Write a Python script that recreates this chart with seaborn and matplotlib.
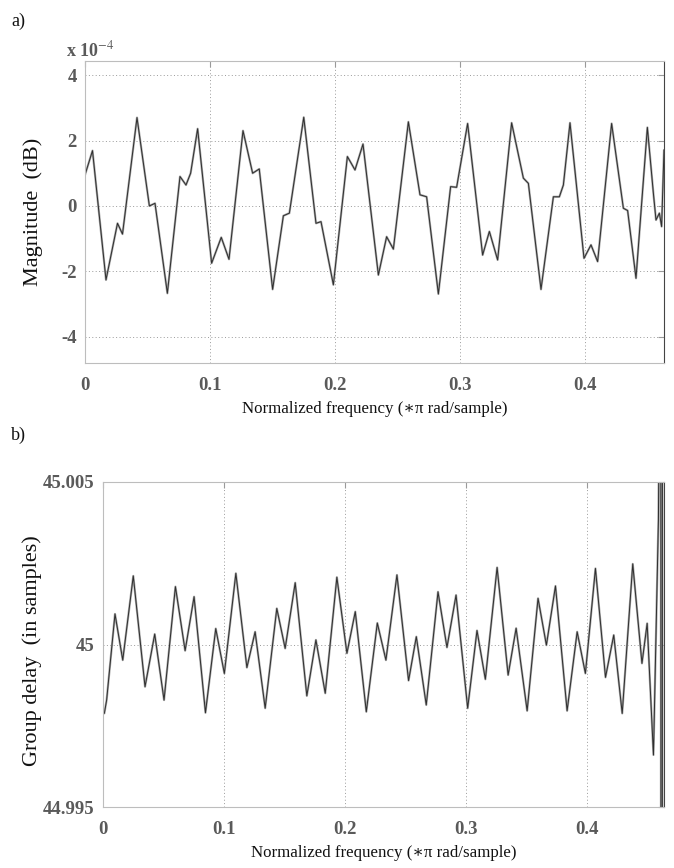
import numpy as np
import pandas as pd
import seaborn as sns
import matplotlib.pyplot as plt

sns.set_style("white")
plt.rcParams["font.family"] = ["Liberation Serif", "DejaVu Serif"]
plt.rcParams["mathtext.fontset"] = "stix"

# ---------------------------------------------------------
# data
# ---------------------------------------------------------

# a) magnitude error, in units of 1e-4 dB
freq_a = [0.0, 0.006, 0.0168, 0.026, 0.030, 0.0416, 0.0515, 0.056, 0.0659, 0.076,
          0.0808, 0.0845, 0.0901, 0.1013, 0.109, 0.1152, 0.1264, 0.1341, 0.1394, 0.1501,
          0.1587, 0.1635, 0.175, 0.1848, 0.1888, 0.1987, 0.2099, 0.216, 0.2224, 0.2347,
          0.2413, 0.2467, 0.2587, 0.268, 0.2733, 0.2827, 0.2925, 0.2973, 0.3061, 0.3181,
          0.3235, 0.3301, 0.3413, 0.3507, 0.3547, 0.3648, 0.3747, 0.3795, 0.3827, 0.388,
          0.3992, 0.4048, 0.4101, 0.4213, 0.4307, 0.4341, 0.4408, 0.4499, 0.4547, 0.4568,
          0.4595, 0.4613, 0.4632]
mag_a = [0.95, 1.69, -2.26, -0.53, -0.86, 2.70, 0.0, 0.08, -2.67, 0.90,
         0.64, 1.0, 2.36, -1.75, -0.96, -1.63, 2.30, 1.0, 1.13, -2.55,
         -0.30, -0.22, 2.71, -0.53, -0.48, -2.41, 1.51, 1.10, 1.89, -2.11,
         -0.94, -1.32, 2.57, 0.34, 0.28, -2.69, 0.59, 0.57, 2.52, -1.50,
         -0.78, -1.65, 2.54, 0.85, 0.69, -2.55, 0.28, 0.28, 0.64, 2.54,
         -1.60, -1.19, -1.70, 2.52, -0.07, -0.14, -2.21, 2.40, 0.39, -0.43,
         -0.22, -0.63, 1.71]

# b) group delay, deviation from 45 samples in units of 1e-3 samples
freq_b = [0.0011, 0.003, 0.0099, 0.0163, 0.025, 0.0347, 0.0427, 0.0504, 0.0598, 0.0678,
          0.0752, 0.0846, 0.0931, 0.1002, 0.1097, 0.1188, 0.1256, 0.1339, 0.1435, 0.1504,
          0.1587, 0.1683, 0.1758, 0.1835, 0.1931, 0.2014, 0.2083, 0.2174, 0.2265, 0.2336,
          0.2427, 0.2523, 0.2587, 0.2669, 0.2766, 0.2840, 0.2915, 0.3011, 0.3088, 0.3157,
          0.3254, 0.3345, 0.3411, 0.3502, 0.3592, 0.3661, 0.3736, 0.3832, 0.3915, 0.3983,
          0.4066, 0.4149, 0.4217, 0.4287, 0.4374, 0.4450, 0.4493, 0.4545, 0.4586, 0.4594,
          0.4606, 0.4607, 0.4618, 0.4619]
delay_b = [-2.12, -1.71, 0.94, -0.48, 2.11, -1.30, 0.32, -1.71, 1.78, -0.19,
           1.47, -2.10, 0.49, -0.89, 2.19, -0.71, 0.39, -1.96, 1.11, -0.12,
           1.90, -1.58, 0.14, -1.50, 2.07, -0.27, 1.01, -2.07, 0.66, -0.48,
           2.14, -1.11, 0.24, -1.86, 1.62, -0.09, 1.52, -1.96, 0.43, -1.07,
           2.37, -0.94, 0.50, -2.04, 1.42, -0.02, 1.80, -2.04, 0.39, -0.89,
           2.34, -1.01, 0.29, -2.12, 2.48, -0.58, 0.65, -3.40, 3.83, 8.0,
           8.0, -8.0, -8.0, 8.0]

xticks = [0, 0.1, 0.2, 0.3, 0.4]
xticklabels = ["0", "0.1", "0.2", "0.3", "0.4"]
yticks_a = [-4, -2, 0, 2, 4]
yticks_b = [44.995, 45.0, 45.005]
yticklabels_b = ["44.995", "45", "45.005"]

df_a = pd.DataFrame({"f": freq_a, "m": mag_a})
df_b = pd.DataFrame({"f": freq_b, "d": 45 + np.array(delay_b) / 1000})

# ---------------------------------------------------------
# figure
# ---------------------------------------------------------

fig = plt.figure(figsize=(6.74, 8.68), dpi=100)
ax1 = fig.add_axes([85 / 674, 1 - 363 / 868, 579 / 674, 302 / 868])
ax2 = fig.add_axes([103 / 674, 1 - 807 / 868, 561 / 674, 325 / 868])

tick_col = "#5a5a5a"
xlabel = "Normalized frequency (\u2217\u03c0 rad/sample)"


def style_axes(ax):
    ax.grid(True, linestyle=(0, (1, 2.5)), color="#9a9a9a", linewidth=0.7)
    for side in ["left", "top", "bottom"]:
        ax.spines[side].set_color("#bdbdbd")
    ax.spines["right"].set_color("#444444")
    ax.tick_params(direction="in", length=4, top=True, right=True,
                   color="#9a9a9a", labelcolor=tick_col, labelsize=13.5)
    ax.tick_params(axis="x", pad=10)
    ax.tick_params(axis="y", pad=6)
    for lab in ax.get_xticklabels() + ax.get_yticklabels():
        lab.set_fontweight("bold")
    ax.set_xlabel(xlabel, fontsize=12.2, color="#111111", labelpad=5)


# panel a
sns.lineplot(data=df_a, x="f", y="m", sort=False, estimator=None, ax=ax1,
             color="#a8a8a8", linewidth=1.6)
sns.lineplot(data=df_a, x="f", y="m", sort=False, estimator=None, ax=ax1,
             color="#2e2e2e", linewidth=0.7)
ax1.set_xlim(0, 0.4632)
ax1.set_ylim(-4.8, 4.43)
ax1.set_xticks(xticks)
ax1.set_xticklabels(xticklabels)
ax1.set_yticks(yticks_a)
ax1.set_yticklabels([str(v) for v in yticks_a])
style_axes(ax1)
ax1.set_ylabel("Magnitude  (dB)", fontsize=16, color="#111111")
ax1.yaxis.set_label_coords(-0.073, 0.5)

# panel b
sns.lineplot(data=df_b, x="f", y="d", sort=False, estimator=None, ax=ax2,
             color="#a8a8a8", linewidth=1.6)
sns.lineplot(data=df_b, x="f", y="d", sort=False, estimator=None, ax=ax2,
             color="#2e2e2e", linewidth=0.7)
ax2.set_xlim(0, 0.4632)
ax2.set_ylim(44.995, 45.005)
ax2.set_xticks(xticks)
ax2.set_xticklabels(xticklabels)
ax2.set_yticks(yticks_b)
ax2.set_yticklabels(yticklabels_b)
style_axes(ax2)
ax2.set_ylabel("Group delay  (in samples)", fontsize=16, color="#111111")
ax2.yaxis.set_label_coords(-0.109, 0.48)

fig.text(11 / 674, 1 - 26 / 868, "a)", fontsize=13, color="#111111")
fig.text(11 / 674, 1 - 440 / 868, "b)", fontsize=13, color="#111111")
fig.text(66 / 674, 1 - 56 / 868, r"x 10$^{-4}$", fontsize=13, color=tick_col,
         fontweight="bold")

fig.savefig("out.png", dpi=100)
